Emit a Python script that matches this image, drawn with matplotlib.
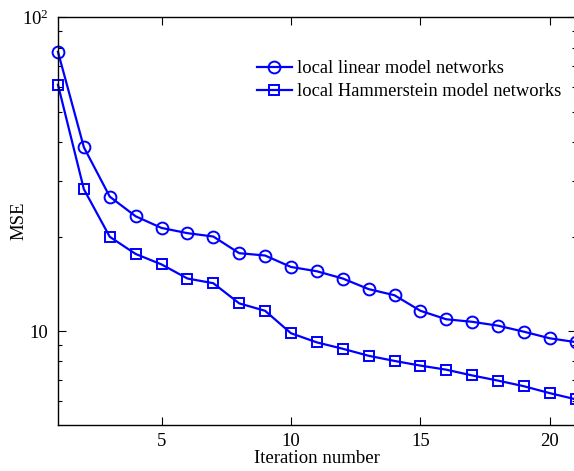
import matplotlib
matplotlib.use("Agg")
import matplotlib.pyplot as plt
from matplotlib.ticker import FixedLocator, FixedFormatter, NullFormatter

plt.rcParams['font.family'] = ['Liberation Serif']
plt.rcParams['mathtext.fontset'] = 'custom'
plt.rcParams['mathtext.rm'] = 'Liberation Serif'
plt.rcParams['mathtext.it'] = 'Liberation Serif:italic'

iterations = list(range(1, 22))
mse_linear = [77.5, 38.5, 26.8, 23.2, 21.3, 20.5, 20.0, 17.7, 17.4, 16.0, 15.5,
              14.7, 13.6, 13.0, 11.6, 10.9, 10.7, 10.4, 9.95, 9.48, 9.22]
mse_hammerstein = [60.9, 28.3, 19.96, 17.6, 16.3, 14.7, 14.2, 12.25, 11.6, 9.84, 9.2,
                   8.78, 8.34, 8.03, 7.76, 7.53, 7.22, 6.95, 6.67, 6.34, 6.06]
labels = ['local linear model networks', 'local Hammerstein model networks']
xticks = [5, 10, 15, 20]
yticks = [10, 100]
ytick_labels = ['10', r'$10^2$']

fig = plt.figure(figsize=(5.74, 4.71), dpi=100)
ax = fig.add_axes([0.101, 0.0977, 0.902, 0.866])

blue = (0, 0, 1)
ax.plot(iterations, mse_linear, '-o', color=blue, lw=1.6, ms=8.5,
        mfc='none', mec=blue, mew=1.4, label=labels[0], clip_on=False)
ax.plot(iterations, mse_hammerstein, '-s', color=blue, lw=1.6, ms=7,
        mfc='none', mec=blue, mew=1.4, label=labels[1], clip_on=False)

ax.set_yscale('log')
ax.set_xlim(1, 21)
ax.set_ylim(5.02, 100)
ax.set_xticks(xticks)
ax.set_xticklabels([str(t) for t in xticks])
ax.yaxis.set_major_locator(FixedLocator(yticks))
ax.yaxis.set_major_formatter(FixedFormatter(ytick_labels))
ax.yaxis.set_minor_locator(FixedLocator([6, 7, 8, 9, 20, 30, 40, 50, 60, 70, 80, 90]))
ax.yaxis.set_minor_formatter(NullFormatter())

ax.tick_params(which='both', direction='in', top=True, right=True, labelsize=13.5, width=0.8)
ax.tick_params(which='major', length=6)
ax.tick_params(which='minor', length=3)
ax.tick_params(axis='y', which='major', pad=7)
ax.tick_params(axis='x', which='major', pad=6)
for s in ax.spines.values():
    s.set_linewidth(1.0)

ax.set_xlabel('Iteration number', fontsize=13.5, labelpad=0)
ax.set_ylabel('MSE', fontsize=13.5, labelpad=-4)

leg = ax.legend(loc='upper left', bbox_to_anchor=(0.37, 0.912), frameon=False,
                fontsize=13.3, handlelength=1.9, handletextpad=0.28,
                labelspacing=0.33, borderaxespad=0)

fig.savefig('out.png', dpi=100)
